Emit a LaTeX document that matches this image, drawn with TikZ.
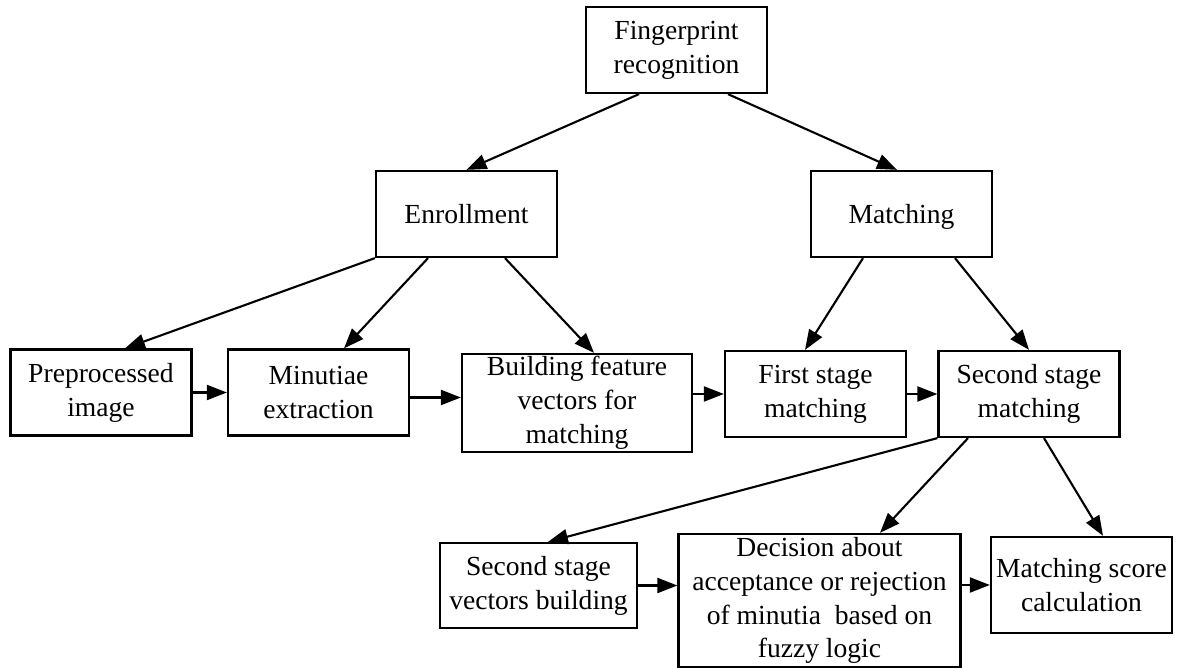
\documentclass[tikz,border=0pt]{standalone}
\usepackage{fontspec}
\setmainfont{Liberation Serif}
\usetikzlibrary{arrows.meta}
\usetikzlibrary{calc}

\begin{document}
\begin{tikzpicture}[x=0.02cm,y=-0.02cm,
  box/.style={draw,line width=1.3pt,align=center,inner sep=0pt,minimum width=3.62cm,minimum height=1.72cm,font=\fontsize{15.7}{19.3}\selectfont},
  arr/.style={line width=1.2pt,-{Triangle[length=0.4cm,width=0.3cm]}}]
\useasboundingbox (0,0) rectangle (1178,668);

% top
\node[box] (fr) at (676.5,50) {Fingerprint\\recognition};
\node[box,text depth=0pt] (en) at (466.5,214) {Enrollment};
\node[box,text depth=0pt] (ma) at (901.5,214) {Matching};

% second row
\node[box] (pi) at (101,392.5) {Preprocessed\\image};
\node[box] (me) at (318.5,392.5) {Minutiae\\extraction};
\node[box,minimum width=4.6cm,minimum height=1.96cm] (bf) at (577,403) {Building feature\\vectors for\\matching};
\node[box] (fs) at (815.5,394) {First stage\\matching};
\node[box] (ss) at (1029,394) {Second stage\\matching};

% third row
\node[box,minimum width=3.94cm,minimum height=1.7cm] (sv) at (538.5,585.5) {Second stage\\vectors building};
\node[box,minimum width=5.64cm,minimum height=2.66cm] (de) at (819.5,600.5) {Decision about\\acceptance or rejection\\of minutia~ based on\\fuzzy logic};
\node[box,minimum height=1.92cm] (ms) at (1081.5,585) {Matching score\\calculation};

\draw[arr] ($(fr.south)+(-37.5,0)$) -- (en.north);
\draw[arr] ($(fr.south)+(51.5,0)$) -- ($(ma.north)+(-4.5,0)$);

\draw[arr] (en.south west) -- ($(pi.north)+(24,0)$);
\draw[arr] ($(en.south)+(-38.5,0)$) -- ($(me.north)+(25.5,0)$);
\draw[arr] ($(en.south)+(38.5,0)$) -- ($(bf.north)+(17,0)$);
\draw[arr] ($(ma.south)+(-38.5,0)$) -- ($(fs.north)+(-10.5,0)$);
\draw[arr] ($(ma.south)+(53.5,0)$) -- (ss.north);

\draw[arr] (pi.east) -- (me.west);
\draw[arr] ($(me.east)+(0,5)$) coordinate (p) -- (p -| bf.west);
\draw[arr] (bf.east |- fs.west) -- (fs.west);
\draw[arr] (fs.east) -- (ss.west);

\draw[arr] (ss.south west) -- ($(sv.north)+(9.5,0)$);
\draw[arr] ($(ss.south)+(-61,0)$) -- ($(de.north)+(60.5,0)$);
\draw[arr] ($(ss.south)+(15,0)$) -- ($(ms.north)+(21.5,0)$);

\draw[arr] (sv.east) -- (sv.east -| de.west);
\draw[arr] (ms.west -| de.east) -- (ms.west);

\end{tikzpicture}
\end{document}
